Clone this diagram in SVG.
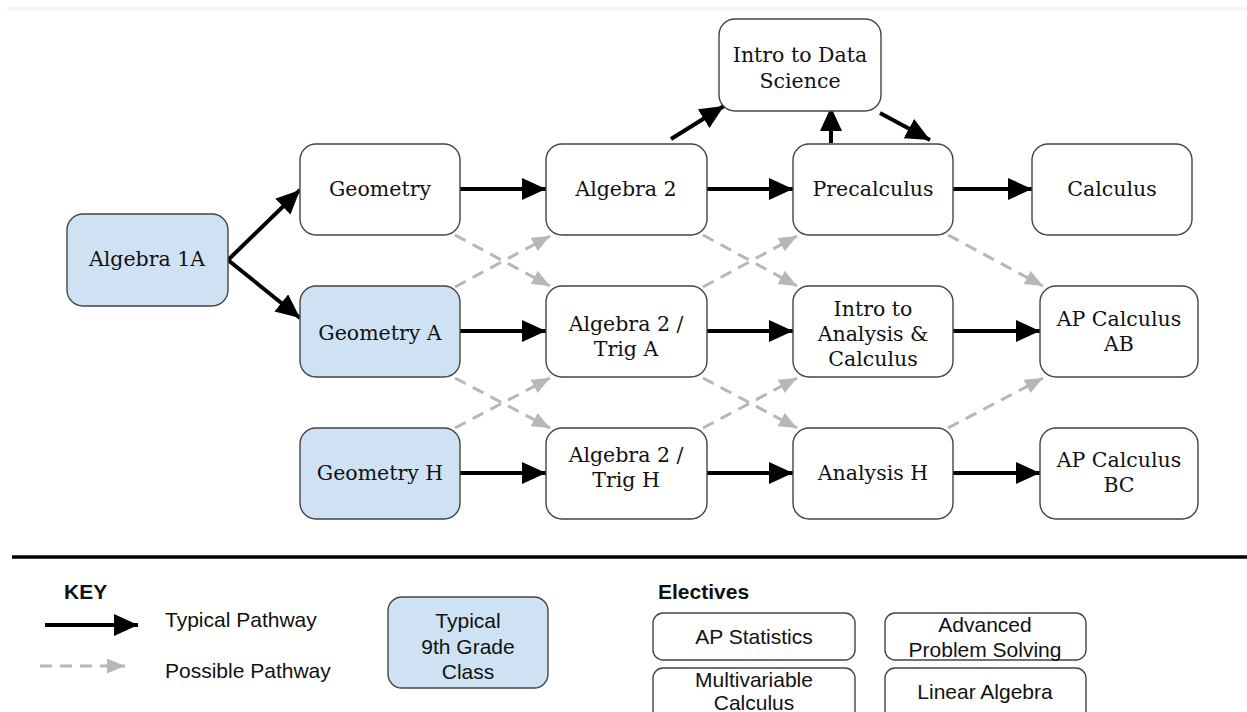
<svg xmlns="http://www.w3.org/2000/svg" width="1247" height="712" viewBox="0 0 1247 712">
<style>
.n rect{stroke:#444;stroke-width:1.4}
.w{fill:#fff}
.b{fill:#cfe2f3}
.t{font-family:"DejaVu Serif","Liberation Serif",serif;font-size:20.5px;fill:#111;text-anchor:middle}
.s{font-family:"Liberation Sans",Arial,sans-serif;font-size:21px;fill:#111}
.sc{text-anchor:middle}
.bold{font-weight:bold}
.k{stroke:#000;stroke-width:4;fill:none;marker-end:url(#hk)}
.g{stroke:#b7b7b7;stroke-width:3;fill:none;stroke-dasharray:12 8;marker-end:url(#hg)}
</style>
<defs>
<marker id="hk" markerUnits="userSpaceOnUse" markerWidth="26" markerHeight="24" refX="24" refY="11" orient="auto"><path d="M0,0 L24,11 L0,22 z" fill="#000"/></marker>
<marker id="hg" markerUnits="userSpaceOnUse" markerWidth="20" markerHeight="16" refX="18" refY="7.5" orient="auto"><path d="M0,0 L18,7.5 L0,15 z" fill="#b7b7b7"/></marker>
</defs>
<rect width="1247" height="712" fill="#fff"/>
<line x1="7" y1="9" x2="1247" y2="9" stroke="#f2f2f2" stroke-width="3"/>

<g id="connectors">
<path class="g" d="M455,235 L550,286"/>
<path class="g" d="M455,287 L550,236"/>
<path class="g" d="M455,378 L550,428"/>
<path class="g" d="M455,428 L550,378"/>
<path class="g" d="M703,235 L797,286"/>
<path class="g" d="M703,287 L797,236"/>
<path class="g" d="M703,378 L797,428"/>
<path class="g" d="M703,428 L797,378"/>
<path class="g" d="M948,235 L1043,286"/>
<path class="g" d="M948,428 L1043,378"/>
<path class="k" d="M228,260 L300,190"/>
<path class="k" d="M228,260 L300,318"/>
<path class="k" d="M460,189 L546,189"/>
<path class="k" d="M707,189 L793,189"/>
<path class="k" d="M953,189 L1032,189"/>
<path class="k" d="M460,331 L546,331"/>
<path class="k" d="M707,331 L793,331"/>
<path class="k" d="M953,331 L1040,331"/>
<path class="k" d="M460,473 L546,473"/>
<path class="k" d="M707,473 L793,473"/>
<path class="k" d="M953,473 L1040,473"/>
<path class="k" d="M671,139 L724,106"/>
<path class="k" d="M831,143 L831,107"/>
<path class="k" d="M880,113 L930,140"/>
</g>

<g id="algebra1a" class="n"><rect class="b" x="67" y="214" width="161" height="92" rx="16"/><text class="t" x="147" y="266">Algebra  1A</text></g>
<g id="geometry" class="n"><rect class="w" x="300" y="144" width="160" height="91" rx="16"/><text class="t" x="380" y="196">Geometry</text></g>
<g id="geometryA" class="n"><rect class="b" x="300" y="286" width="160" height="91" rx="16"/><text class="t" x="380" y="340">Geometry A</text></g>
<g id="geometryH" class="n"><rect class="b" x="300" y="428" width="160" height="91" rx="16"/><text class="t" x="380" y="480">Geometry H</text></g>
<g id="algebra2" class="n"><rect class="w" x="546" y="144" width="161" height="91" rx="16"/><text class="t" x="626" y="196">Algebra 2</text></g>
<g id="alg2trigA" class="n"><rect class="w" x="546" y="286" width="161" height="91" rx="16"/><text class="t" x="626" y="331">Algebra 2 /</text><text class="t" x="626" y="356">Trig A</text></g>
<g id="alg2trigH" class="n"><rect class="w" x="546" y="428" width="161" height="91" rx="16"/><text class="t" x="626" y="462">Algebra 2 /</text><text class="t" x="626" y="487">Trig H</text></g>
<g id="dataScience" class="n"><rect class="w" x="719" y="19" width="162" height="92" rx="16"/><text class="t" x="800" y="62">Intro to Data</text><text class="t" x="800" y="88">Science</text></g>
<g id="precalculus" class="n"><rect class="w" x="793" y="144" width="160" height="91" rx="16"/><text class="t" x="873" y="196">Precalculus</text></g>
<g id="introAnalysis" class="n"><rect class="w" x="793" y="286" width="160" height="91" rx="16"/><text class="t" x="873" y="316">Intro to</text><text class="t" x="873" y="341">Analysis &amp;</text><text class="t" x="873" y="366">Calculus</text></g>
<g id="analysisH" class="n"><rect class="w" x="793" y="428" width="160" height="91" rx="16"/><text class="t" x="873" y="480">Analysis H</text></g>
<g id="calculus" class="n"><rect class="w" x="1032" y="144" width="160" height="91" rx="16"/><text class="t" x="1112" y="196">Calculus</text></g>
<g id="apCalcAB" class="n"><rect class="w" x="1040" y="286" width="158" height="91" rx="16"/><text class="t" x="1119" y="326">AP Calculus</text><text class="t" x="1119" y="351">AB</text></g>
<g id="apCalcBC" class="n"><rect class="w" x="1040" y="428" width="158" height="91" rx="16"/><text class="t" x="1119" y="467">AP Calculus</text><text class="t" x="1119" y="492">BC</text></g>

<line x1="12" y1="557" x2="1247" y2="557" stroke="#000" stroke-width="3.5"/>

<g id="key">
<text class="s bold" x="64" y="599">KEY</text>
<path class="k" d="M45,625 L138,625"/>
<text class="s" x="165" y="627">Typical Pathway</text>
<path class="g" d="M40,666 L125,666" stroke-dasharray="13 11"/>
<text class="s" x="165" y="678">Possible Pathway</text>
</g>
<g id="keyNode" class="n"><rect class="b" x="388" y="597" width="160" height="91" rx="14"/><text class="s sc" x="468" y="628">Typical</text><text class="s sc" x="468" y="654">9th Grade</text><text class="s sc" x="468" y="679">Class</text></g>

<text class="s bold" x="658" y="599">Electives</text>
<g id="apStats" class="n"><rect class="w" x="653" y="613" width="202" height="47" rx="10"/><text class="s sc" x="754" y="644">AP Statistics</text></g>
<g id="advProblem" class="n"><rect class="w" x="885" y="613" width="201" height="47" rx="10"/><text class="s sc" x="985" y="632">Advanced</text><text class="s sc" x="985" y="657">Problem Solving</text></g>
<g id="multivar" class="n"><rect class="w" x="653" y="668" width="202" height="56" rx="10"/><text class="s sc" x="754" y="687">Multivariable</text><text class="s sc" x="754" y="710">Calculus</text></g>
<g id="linAlg" class="n"><rect class="w" x="885" y="668" width="201" height="56" rx="10"/><text class="s sc" x="985" y="699">Linear Algebra</text></g>
</svg>
